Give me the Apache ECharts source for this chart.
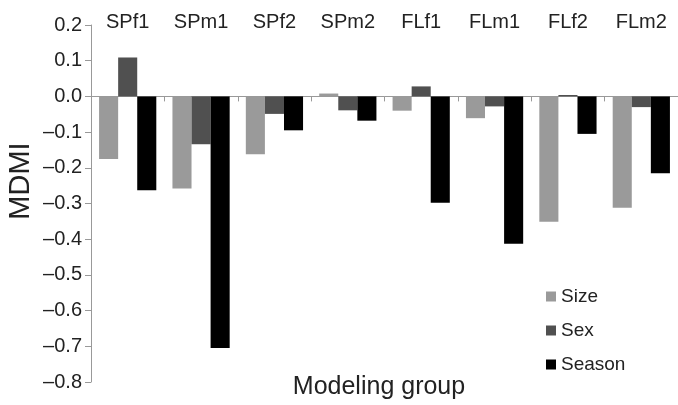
<!DOCTYPE html>
<html><head><meta charset="utf-8">
<script src="https://cdn.jsdelivr.net/npm/echarts@6/dist/echarts.min.js"></script>
<style>html,body{margin:0;padding:0;background:#fff}#c{width:678px;height:405px}</style>
</head><body><div id="c"></div>
<script>
const categories = ['SPf1','SPm1','SPf2','SPm2','FLf1','FLm1','FLf2','FLm2'];
const sizeVals   = [-0.175, -0.258, -0.162, 0.008, -0.040, -0.061, -0.351, -0.312];
const sexVals    = [0.109, -0.134, -0.049, -0.039, 0.028, -0.028, 0.004, -0.030];
const seasonVals = [-0.263, -0.705, -0.095, -0.068, -0.298, -0.413, -0.105, -0.215];
const seriesNames = ['Size','Sex','Season'];
const colors = ['#9a9a9a','#505050','#000000'];
const FONT = 'Liberation Sans, Arial, sans-serif';

const chart = echarts.init(document.getElementById('c'));
chart.setOption({
  animation: false,
  textStyle: {fontFamily: FONT},
  graphic: [{
    type: 'text', x: 379, y: 387,
    style: {text: 'Modeling group', align: 'center', verticalAlign: 'middle',
            fontFamily: FONT, fontSize: 25, fill: '#222'}
  }, {
    type: 'text', x: 21, y: 181, rotation: Math.PI / 2,
    style: {text: 'MDMI', align: 'center', verticalAlign: 'middle',
            fontFamily: FONT, fontSize: 29, fill: '#222'}
  }],
  legend: {
    orient: 'vertical', left: 541, top: 282, itemWidth: 10, itemHeight: 10, itemGap: 15,
    icon: 'rect',
    textStyle: {fontFamily: FONT, fontSize: 19, color: '#222'},
    data: seriesNames
  },
  grid: {left: 91, right: 0, top: 25, bottom: 23, containLabel: false},
  xAxis: [{
    type: 'category', data: categories, position: 'bottom',
    axisLine: {onZero: true, lineStyle: {color: '#999', width: 1}},
    axisTick: {show: true, length: 5, lineStyle: {color: '#999'}},
    axisLabel: {show: false}
  }, {
    type: 'category', data: categories, position: 'top',
    axisLine: {show: false}, axisTick: {show: false},
    axisLabel: {show: true, fontSize: 20, color: '#222', fontFamily: FONT, margin: -7}
  }],
  yAxis: {
    type: 'value', min: -0.8, max: 0.2, interval: 0.1,
    axisLine: {show: true, lineStyle: {color: '#999'}},
    axisTick: {show: true, length: 6, lineStyle: {color: '#999'}},
    splitLine: {show: false},
    axisLabel: {
      fontSize: 20, color: '#222', fontFamily: FONT, margin: 9,
      formatter: v => (Math.abs(v) < 1e-9 ? '0.0' : v.toFixed(1).replace('-', '\u2013'))
    }
  },
  series: [sizeVals, sexVals, seasonVals].map((d, i) => ({
    name: seriesNames[i], type: 'bar', data: d, barGap: '0%', barCategoryGap: '22%',
    itemStyle: {color: colors[i]}
  }))
});
</script></body></html>
